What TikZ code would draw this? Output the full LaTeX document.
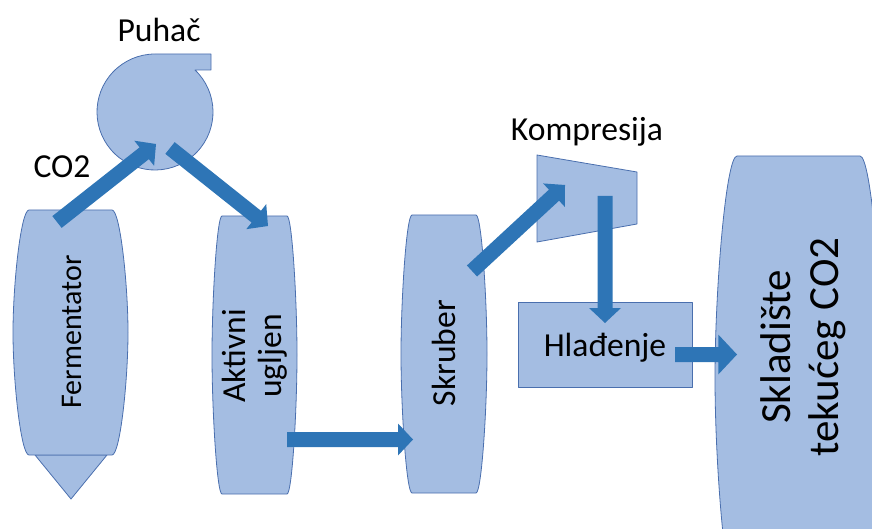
\documentclass[tikz,border=0pt]{standalone}
\usepackage{fontspec}
\setmainfont{Carlito}
\usetikzlibrary{calc}
\definecolor{vesselfill}{HTML}{A4BDE2}
\definecolor{vesseledge}{HTML}{4A6FAE}
\definecolor{flowblue}{HTML}{2E75B6}

% block arrow from tail #2 to tip #3, #1 scales the head
\newcommand{\flowarrow}[3][1]{%
  \pgfmathsetlengthmacro\headw{16pt*#1}%
  \pgfmathsetlengthmacro\headl{15pt*#1}%
  \path ($(#3)!\headl!(#2)$) coordinate (#2-head);
  \fill[flow] ($(#2)!7.5pt!90:(#3)$) -- ($(#2-head)!7.5pt!-90:(#2)$) -- ($(#2-head)!\headw!-90:(#2)$) -- (#3)
    -- ($(#2-head)!\headw!90:(#2)$) -- ($(#2-head)!7.5pt!90:(#2)$) -- ($(#2)!7.5pt!-90:(#3)$) -- cycle;}

% vessel with bulging sides: left, right, top, bottom, inset
\newcommand{\vessel}[5]{%
  \filldraw[vessel] ({#1+#5},#3) -- ({#2-#5},#3)
    .. controls ({#2-0.5*#5},#3) and (#2,{#3-0.3*(#3-#4)}) .. (#2,{(#3+#4)/2})
    .. controls (#2,{#4+0.3*(#3-#4)}) and ({#2-0.5*#5},#4) .. ({#2-#5},#4)
    -- ({#1+#5},#4)
    .. controls ({#1+0.5*#5},#4) and (#1,{#4+0.3*(#3-#4)}) .. (#1,{(#3+#4)/2})
    .. controls (#1,{#3-0.3*(#3-#4)}) and ({#1+0.5*#5},#3) .. cycle;}

\begin{document}
\begin{tikzpicture}[x=1pt, y=1pt,
  vessel/.style={fill=vesselfill, draw=vesseledge, line width=0.8pt, line join=round},
  flow/.style={fill=flowblue},
  lbl/.style={inner sep=0pt, font=\fontsize{33.6}{36}\selectfont},
  tall/.style={lbl, rotate=90, align=center},
]
\useasboundingbox (0,0) rectangle (872,528);
\clip (0,0) rectangle (872,528);

% Fermentator
\filldraw[vessel] (35,73) -- (107,73) -- (71,29) -- cycle;
\vessel{13}{128}{318}{73}{16}
\node[tall, font=\fontsize{30}{36}\selectfont] (fer) at (72,196) {Fermentator};

% Puhac
\filldraw[vessel] (211,474) -- (211,458) -- (195,458) arc[start angle=46.4, end angle=-270, radius=58] -- cycle;
\node[lbl] (puh) at (159,498) {Puhač};
\node[lbl] (co2) at (62,361) {CO2};

% Aktivni ugljen
\vessel{212}{297}{312}{34}{10}
\node[tall] (akt) at (255,172) {Aktivni\\ugljen};

% Skruber
\vessel{401}{487}{313}{35}{11}
\node[tall] (skr) at (444,175) {Skruber};

% Kompresija
\filldraw[vessel] (537,373) -- (637,356) -- (637,304) -- (537,286) -- cycle;
\node[lbl] (kom) at (587,396) {Kompresija};

% Hladenje
\filldraw[vessel] (518,141) rectangle (692,226);
\node[lbl] (hla) at (605,180) {Hlađenje};

% Skladiste
\vessel{715}{882}{372}{-72}{22}
\node[tall, font=\fontsize{43}{48}\selectfont] (skl) at (803,181) {Skladište\\tekućeg CO2};

% arrow ends
\coordinate (fer-top) at (57,306);
\coordinate (puh-in) at (156,384);
\coordinate (puh-out) at (170,380);
\coordinate (akt-in) at (268,302);
\coordinate (akt-out) at (287,88.5);
\coordinate (skr-in) at (413,88.5);
\coordinate (skr-out) at (472,257);
\coordinate (kom-in) at (565,343);
\coordinate (kom-out) at (605,332);
\coordinate (hla-in) at (605,205);
\coordinate (hla-out) at (675,173.5);
\coordinate (skl-in) at (737,173.5);

% Flow
\flowarrow{fer-top}{puh-in}
\flowarrow{puh-out}{akt-in}
\flowarrow{akt-out}{skr-in}
\flowarrow{skr-out}{kom-in}
\flowarrow{kom-out}{hla-in}
\flowarrow[1.25]{hla-out}{skl-in}
\end{tikzpicture}
\end{document}
